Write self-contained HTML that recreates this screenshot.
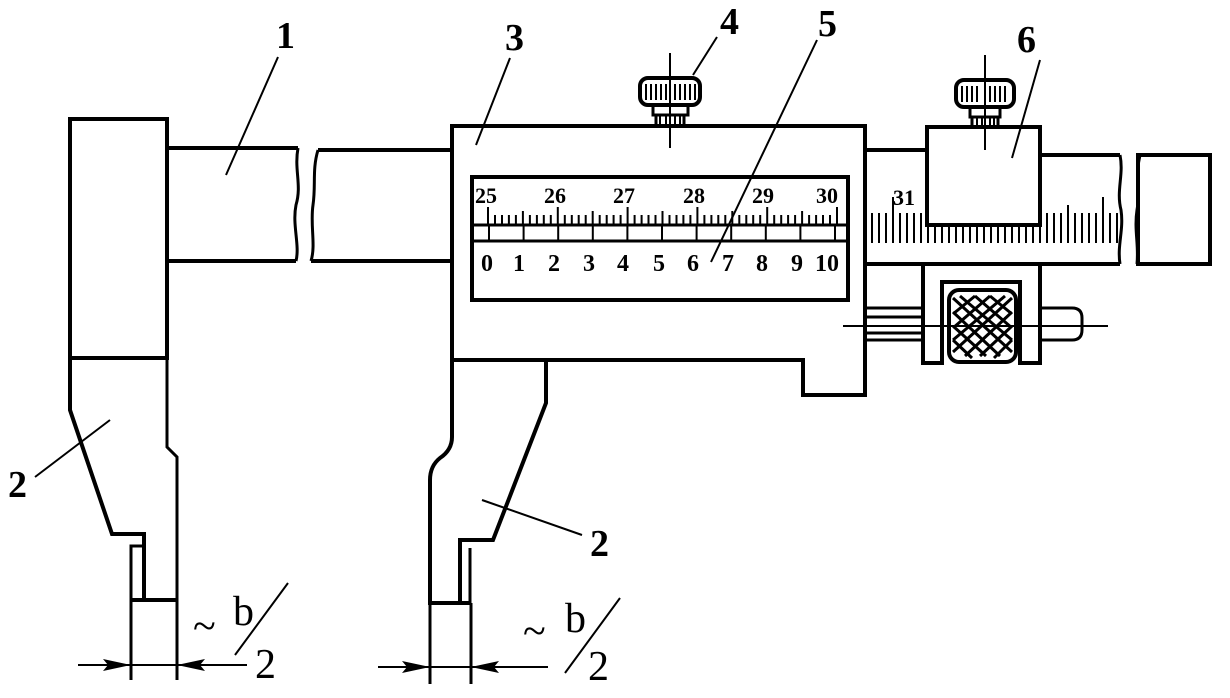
<!DOCTYPE html>
<html><head><meta charset="utf-8"><style>
html,body{margin:0;padding:0;background:#fff;}
svg{display:block;}
text{font-family:"Liberation Serif",serif;font-weight:bold;fill:#000;}
</style></head><body>
<svg width="1230" height="698" viewBox="0 0 1230 698" xmlns="http://www.w3.org/2000/svg">
<g fill="none" stroke="#000" stroke-width="4" stroke-linejoin="miter">
<rect x="70" y="119" width="97" height="239"/>
<path d="M70 358 V410 L112 534 H144 V600"/>
<path d="M167 358 V447 L177 457 V680" stroke-width="3"/>
<path d="M131 680 V546 H144" stroke-width="3"/>
<path d="M131 600 H177" stroke-width="4"/>
<path d="M167 148 H298 M167 261 H296"/>
<path d="M298 148 C294 170 302 185 296 205 C292 225 300 245 296 261" stroke-width="3"/>
<path d="M318 150 C312 170 316 185 313 205 C310 225 316 245 311 261" stroke-width="3"/>
<path d="M318 150 H452 M311 261 H452"/>
<path d="M452 126 H865 V395 H803 V360 H452 Z"/>
<path d="M452 360 V437 Q452 450 440 458 Q430 466 430 480 V603 H470" />
<path d="M546 362 V403 L493 540 H460 V603" stroke-width="4"/>
<path d="M470 548 V603" stroke-width="3"/>
<path d="M430 603 V684 M471 603 V684" stroke-width="3"/>
<rect x="472" y="177" width="376" height="123"/>
<path d="M472 225 H848 M472 241 H848" stroke-width="3"/>
<path d="M866 150 H927 M1040 155 H1120 M866 264 H1120" />
<path d="M1120 155 C1124 175 1116 190 1121 210 C1124 230 1117 245 1120 264" stroke-width="3"/>
<path d="M1140 155 C1135 175 1141 190 1137 210 C1134 230 1139 245 1137 264" stroke-width="3"/>
<rect x="1138" y="155" width="72" height="109"/>
<rect x="927" y="127" width="113" height="98"/>
<path d="M923 264 V363 H942 V282 H1020 V363 H1040 V264"/>
<rect x="949" y="290" width="67" height="72" rx="10"/>
<path d="M866 308 H923 M866 317 H923 M866 333 H923 M866 340 H923" stroke-width="3"/>
<path d="M1040 308 H1072 Q1082 308 1082 318 V330 Q1082 340 1072 340 H1040" stroke-width="3"/>
<rect x="640" y="78" width="60" height="27" rx="8"/>
<path d="M653 105 V115 H688 V105 M656 115 V125 M684 115 V125" stroke-width="3"/>
<rect x="956" y="80" width="58" height="27" rx="8"/>
<path d="M970 107 V117 H1000 V107 M972 117 V127 M998 117 V127" stroke-width="3"/>
</g>
<g stroke="#000" stroke-width="2">
<path d="M646 84 V100 M651 84 V100 M656 84 V100 M661 84 V100 M666 84 V100 M675 84 V100 M680 84 V100 M685 84 V100 M690 84 V100 M695 84 V100"/>
<path d="M660 116 V125 M666 116 V125 M675 116 V125 M680 116 V125"/>
<path d="M962 86 V102 M967 86 V102 M972 86 V102 M977 86 V102 M990 86 V102 M995 86 V102 M1000 86 V102 M1005 86 V102"/>
<path d="M977 118 V127 M982 118 V127 M990 118 V127 M994 118 V127"/>
</g>
<g stroke="#000" stroke-width="3" fill="none">
<path d="M953 298 L1012 352 M953 312 L1000 356 M953 326 L986 356 M953 340 L972 358 M960 296 L1012 340 M975 296 L1012 328 M990 296 L1012 314 M1012 298 L953 352 M1012 312 L965 356 M1012 326 L980 356 M1012 340 L994 358 M1005 296 L953 340 M990 296 L953 328 M975 296 L953 314"/>
</g>
<g stroke="#000" stroke-width="2">
<path d="M670 53 V148 M985 55 V150 M843 326 H1108"/>
</g>
<g stroke="#000" stroke-width="2" id="ticks"></g>
<script>
(function(){
var ns="http://www.w3.org/2000/svg",g=document.getElementById("ticks"),d="";
var u=69.8;
for(var i=0;i<=50;i++){var x=488+i*u/10;if(x>846)break;var t=(i%10==0)?207:(i%5==0?211:215);d+="M"+x.toFixed(1)+" "+t+"V225";}
for(var k=0;k<=10;k++){var x=489+k*34.6;d+="M"+x.toFixed(1)+" 225V241";}
for(var x=872;x<=1118;x+=7){var j=Math.round((x-872)/7);var t=(j%10==3)?197:((j%5==3)?205:213);if(x>927&&x<1040)t=226;d+="M"+x+" "+t+"V243";}
var p=document.createElementNS(ns,"path");p.setAttribute("d",d);g.appendChild(p);
})();
</script>
<g font-size="22">
<text x="475" y="203">25</text><text x="544" y="203">26</text><text x="613" y="203">27</text><text x="683" y="203">28</text><text x="752" y="203">29</text><text x="816" y="203">30</text>
<text x="893" y="205">31</text>
</g>
<g font-size="24">
<text x="481" y="271">0</text><text x="513" y="271">1</text><text x="548" y="271">2</text><text x="583" y="271">3</text><text x="617" y="271">4</text><text x="653" y="271">5</text><text x="687" y="271">6</text><text x="722" y="271">7</text><text x="756" y="271">8</text><text x="791" y="271">9</text><text x="815" y="271">10</text>
</g>
<g stroke="#000" stroke-width="2">
<path d="M278 57 L226 175 M510 58 L476 145 M717 37 L693 75 M817 40 L711 262 M1040 60 L1012 158 M35 477 L110 420 M482 500 L582 535"/>
<path d="M78 665 H247 M378 667 H548"/>
<path d="M235 655 L288 583 M565 673 L620 598"/>
</g>
<g fill="#000">
<path d="M131 665 L103 659 L108 665 L103 671 Z"/>
<path d="M177 665 L205 659 L200 665 L205 671 Z"/>
<path d="M430 667 L402 661 L407 667 L402 673 Z"/>
<path d="M471 667 L499 661 L494 667 L499 673 Z"/>
</g>
<g font-size="38">
<text x="276" y="48">1</text><text x="505" y="50">3</text><text x="720" y="34">4</text><text x="818" y="36">5</text><text x="1017" y="52">6</text>
<text x="8" y="497">2</text><text x="590" y="556">2</text>
</g>
<g font-size="42">
<text x="193" y="640" style="font-weight:normal">~</text><text x="233" y="625" style="font-weight:normal">b</text><text x="255" y="678" style="font-weight:normal">2</text>
<text x="523" y="645" style="font-weight:normal">~</text><text x="565" y="632" style="font-weight:normal">b</text><text x="588" y="680" style="font-weight:normal">2</text>
</g>
</svg>
</body></html>
